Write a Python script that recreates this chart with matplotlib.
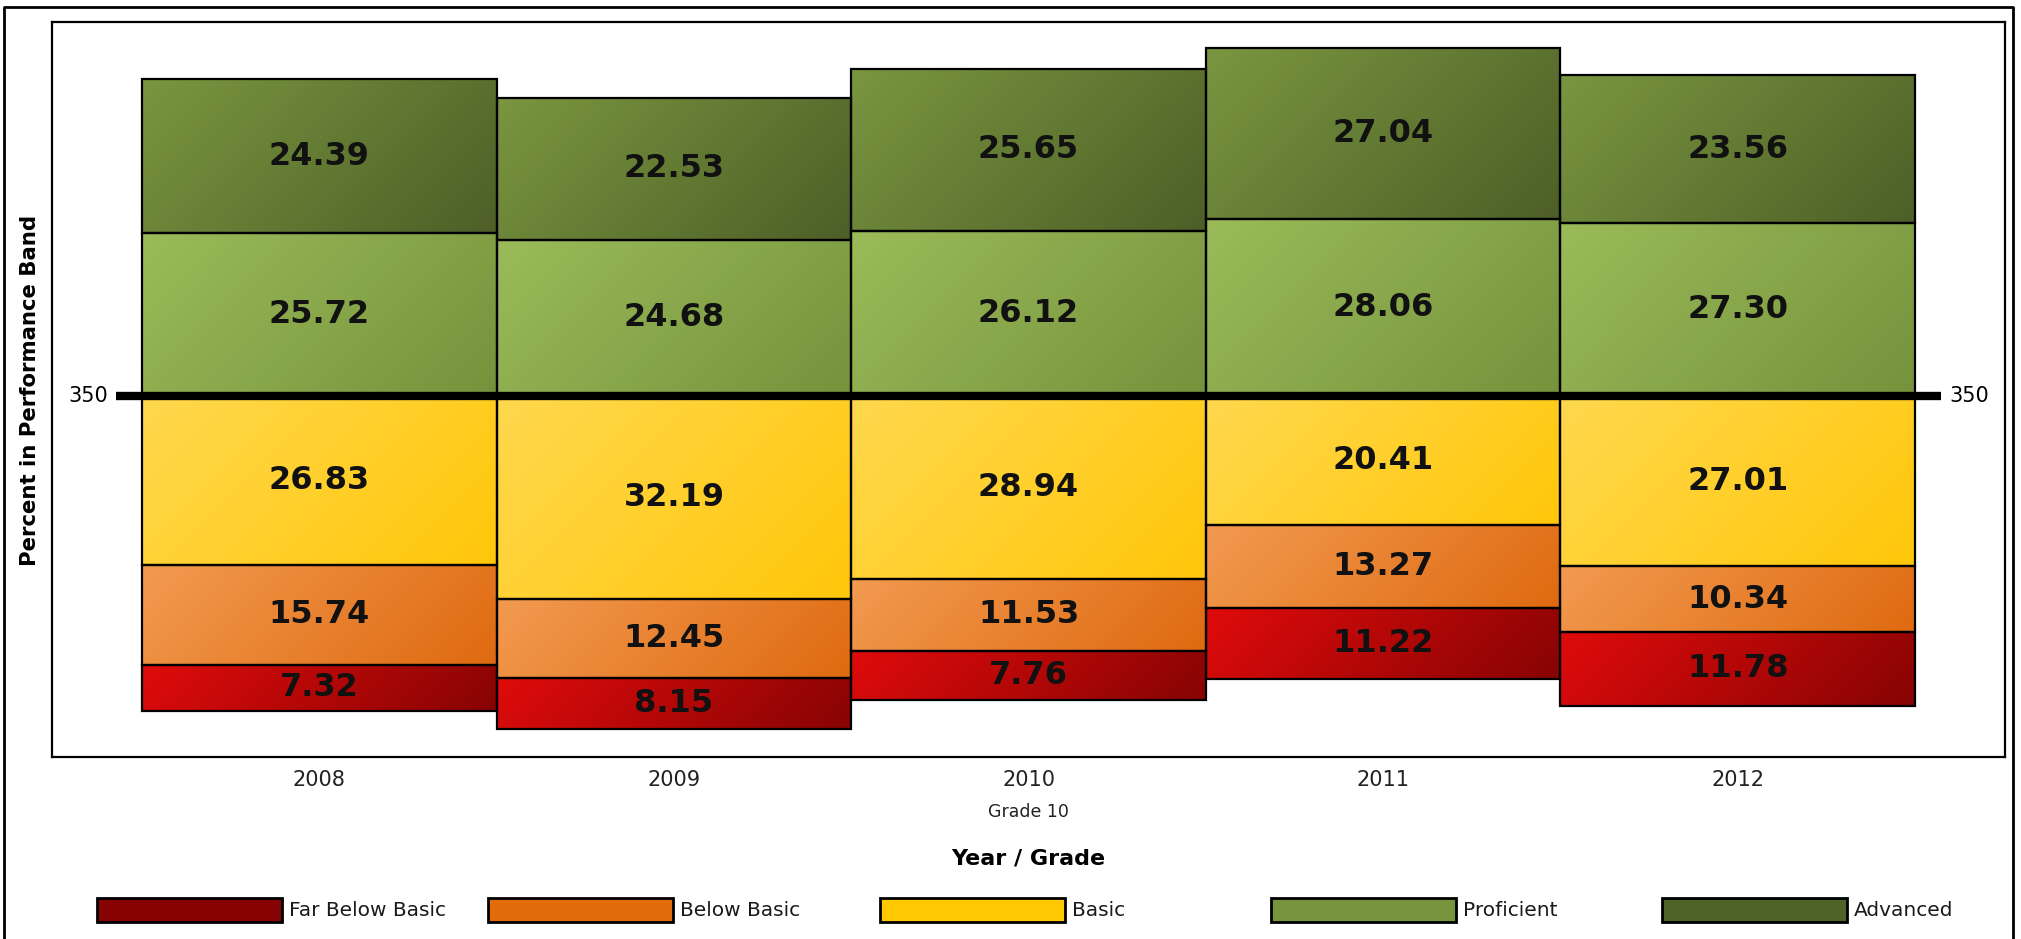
import numpy as np
import matplotlib.pyplot as plt
from matplotlib.patches import Rectangle
from matplotlib.lines import Line2D
from matplotlib.colors import to_rgb

# data
years = ['2008', '2009', '2010', '2011', '2012']
far_below = [7.32, 8.15, 7.76, 11.22, 11.78]
below = [15.74, 12.45, 11.53, 13.27, 10.34]
basic = [26.83, 32.19, 28.94, 20.41, 27.01]
proficient = [25.72, 24.68, 26.12, 28.06, 27.30]
advanced = [24.39, 22.53, 25.65, 27.04, 23.56]
bands = ['Far Below Basic', 'Below Basic', 'Basic', 'Proficient', 'Advanced']
cut_label = '350'

# gradient (light, dark) per band, and flat legend colours
grads = [('#e00b0b', '#870404'),
         ('#f29a50', '#df6a10'),
         ('#ffd84e', '#ffc70a'),
         ('#9bbb59', '#76923c'),
         ('#7a9640', '#4d5f27')]
legend_colors = ['#870303', '#e26b0a', '#ffc800', '#77933c', '#4f6228']

W, H = 2021, 939
fig = plt.figure(figsize=(W / 100, H / 100), dpi=100)
ax = fig.add_axes([52 / W, 1 - 757 / H, (2005 - 52) / W, (757 - 22) / H])

x = np.arange(len(years))
fb = np.array(far_below)
bb_ = np.array(below)
ba = np.array(basic)
pr = np.array(proficient)
ad = np.array(advanced)

# basic/proficient cut at 0, lower bands stacked downward
segments = [(fb, -(ba + bb_ + fb)),
            (bb_, -(ba + bb_)),
            (ba, -ba),
            (pr, np.zeros_like(pr)),
            (ad, pr)]

ylo, yhi = -57.2, 59.2
px_per_x = (2005 - 52) / 5.508
px_per_y = (757 - 22) / (yhi - ylo)

n = 80
u = np.linspace(0, 1, n)
U, V = np.meshgrid(u, u)

for (vals, bots), (c1, c2) in zip(segments, grads):
    bars = ax.bar(x, vals, width=1.0, bottom=bots, color='none',
                  edgecolor='black', linewidth=1.6, zorder=3)
    for p, v in zip(bars.patches, vals):
        b = p.get_bbox()
        wp = b.width * px_per_x
        hp = b.height * px_per_y
        # diagonal gradient in screen space, light top-left -> dark bottom-right
        t = ((U * wp + V * hp) / (wp + hp))[..., None]
        img = np.array(to_rgb(c1)) * (1 - t) + np.array(to_rgb(c2)) * t
        im = ax.imshow(img, extent=[b.x0, b.x1, b.y0, b.y1], origin='upper',
                       aspect='auto', interpolation='bilinear', zorder=2)
        im.set_clip_path(p)
        ax.text((b.x0 + b.x1) / 2, (b.y0 + b.y1) / 2, f'{v:.2f}',
                ha='center', va='center', fontsize=23, fontweight='bold',
                color='#111111', zorder=4)

# 350 cut line
x_left = x[0] - 0.5 - 0.073
x_right = x[-1] + 0.5 + 0.073
ax.plot([x_left, x_right], [0, 0], color='black', lw=6,
        solid_capstyle='butt', zorder=5)
ax.annotate(cut_label, xy=(x_left, 0), xytext=(-6, 0), textcoords='offset points',
            ha='right', va='center', fontsize=15)
ax.annotate(cut_label, xy=(x_right, 0), xytext=(6, 0), textcoords='offset points',
            ha='left', va='center', fontsize=15)

ax.set_xlim(-0.754, len(years) - 1 + 0.754)
ax.set_ylim(ylo, yhi)
ax.set_xticks(x, years)
ax.set_yticks([])
ax.tick_params(length=0, labelsize=15, pad=9, labelcolor='#222222')
for s in ax.spines.values():
    s.set_linewidth(1.6)

fig.text(1028.5 / W, 1 - 812 / H, 'Grade 10', ha='center', va='center',
         fontsize=12.5, color='#222222')
fig.text(1028.5 / W, 1 - 858 / H, 'Year / Grade', ha='center', va='center',
         fontsize=16, fontweight='bold')
fig.text(30 / W, 1 - 390 / H, 'Percent in Performance Band', rotation=90,
         ha='center', va='center', fontsize=15.3, fontweight='bold')

# legend slots, evenly spaced
for i, name in enumerate(bands):
    x0 = 97 + i * 391.3
    fig.patches.append(Rectangle((x0 / W, 1 - 922 / H), 185 / W, 24 / H,
                                 transform=fig.transFigure,
                                 facecolor=legend_colors[i],
                                 edgecolor='black', lw=2))
    fig.text((x0 + 192) / W, 1 - 910 / H, name, ha='left', va='center',
             fontsize=14.5, color='#1a1a1a')

# outer frame (open at the bottom)
fig.add_artist(Line2D([4 / W, 4 / W, 2013 / W, 2013 / W],
                      [0, 1 - 7 / H, 1 - 7 / H, 0],
                      transform=fig.transFigure, color='black', lw=2))

fig.savefig('out.png', dpi=100)
